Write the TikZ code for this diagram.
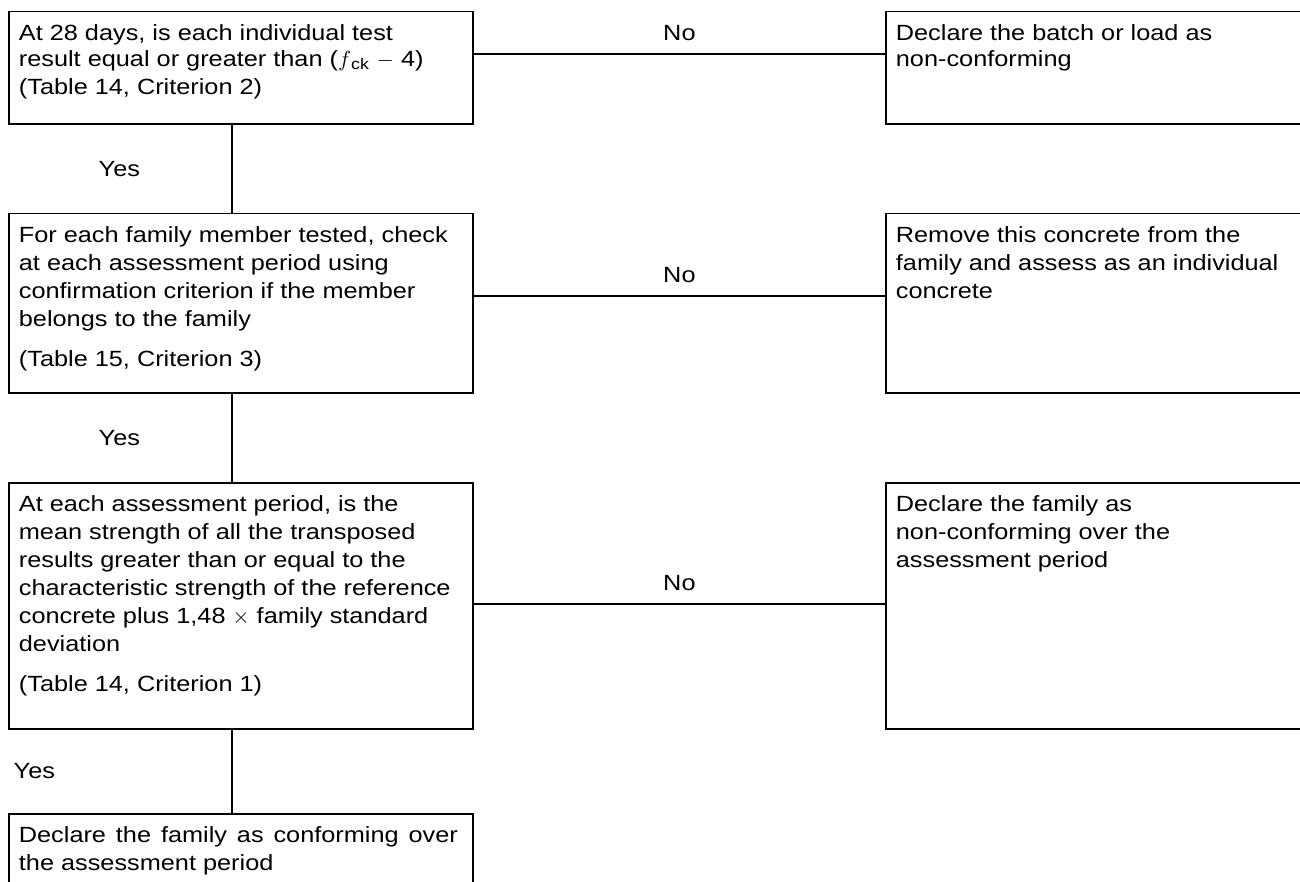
\documentclass[tikz,border=0pt]{standalone}
\usepackage{fontspec}
\setmainfont{Liberation Sans}[FakeStretch=1.15]
\usetikzlibrary{positioning}
\tikzset{step box/.style={rectangle,draw,line width=0.9pt,anchor=north west,minimum width=232pt,inner sep=0pt},
         result box/.style={step box,minimum width=230pt},
         box text/.style={rectangle,draw=none,anchor=north west,align=left,inner xsep=5pt,inner ysep=6.3pt,font=\fontsize{11}{14}\selectfont},
         edge label/.style={rectangle,draw=none,fill=none,inner sep=0pt,font=\fontsize{11}{14}\selectfont}
}

\begin{document}
\begin{tikzpicture}[x=0.5pt,y=-0.5pt,line width=0.9pt]
\useasboundingbox (0,0) rectangle (1300,882);
\clip (0,0) rectangle (1300,882);
\node[step box,minimum height=56.2pt,label={[box text,font=\fontsize{11}{13}\selectfont]north west:{At 28 days, is each individual test\\
    result equal or greater than ($f$\textsubscript{ck} $-$ 4)\\[1pt] (Table 14, Criterion 2)}}] (q1) at (8,10.7) {};
\node[result box,minimum height=56.2pt,label={[box text,font=\fontsize{11}{13}\selectfont]north west:{Declare the batch or load as\\ non-conforming}}] (r1) at (885,10.7) {};
\node[step box,minimum height=89.6pt,label={[box text]north west:{For each family member tested, check\\
    at each assessment period using\\ confirmation criterion if the member\\ belongs to the family\\[6pt]
    (Table 15, Criterion 3)}}] (q2) at (8,212.7) {};
\node[result box,minimum height=89.6pt,label={[box text]north west:{Remove this concrete from the\\
    family and assess as an individual\\ concrete}}] (r2) at (885,212.7) {};
\node[step box,minimum height=123pt,label={[box text]north west:{At each assessment period, is the\\
    mean strength of all the transposed\\ results greater than or equal to the\\
    characteristic strength of the reference\\ concrete plus 1,48 $\times$ family standard\\ deviation\\[6pt]
    (Table 14, Criterion 1)}}] (q3) at (8,482) {};
\node[result box,minimum height=123pt,label={[box text]north west:{Declare the family as\\
    non-conforming over the\\ assessment period}}] (r3) at (885,482) {};
\node[step box,minimum height=60pt,label={[box text]north west:{\makebox[219.5pt][s]{Declare the family as conforming over}\\
    the assessment period}}] (q4) at (8,813) {};

\draw ([yshift=7pt]q1.east) -- node[edge label,above=6pt] {No} ([yshift=7pt]r1.west);
\draw ([yshift=3.7pt]q2.east) -- node[edge label,above=6pt] {No} ([yshift=3.7pt]r2.west);
\draw ([yshift=1pt]q3.east) -- node[edge label,above=6pt] {No} ([yshift=1pt]r3.west);
\draw ([xshift=-4.5pt]q1.south) -- node[edge label,left=45.5pt] {Yes} ([xshift=-4.5pt]q2.north);
\draw ([xshift=-4.5pt]q2.south) -- node[edge label,left=45.5pt] {Yes} ([xshift=-4.5pt]q3.north);
\draw ([xshift=-4.5pt]q3.south) -- node[edge label,left=88pt] {Yes} ([xshift=-4.5pt]q4.north);
\end{tikzpicture}
\end{document}
